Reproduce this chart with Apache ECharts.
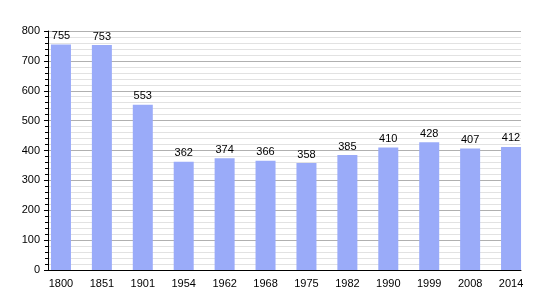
<!DOCTYPE html>
<html><head><meta charset="utf-8">
<script src="https://cdn.jsdelivr.net/npm/echarts@6/dist/echarts.min.js"></script>
<style>html,body{margin:0;padding:0;background:#fff}#c{width:550px;height:300px}</style>
</head><body><div id="c"></div>
<script>
var years = ['1800','1851','1901','1954','1962','1968','1975','1982','1990','1999','2008','2014'];
var population = [755, 753, 553, 362, 374, 366, 358, 385, 410, 428, 407, 412];
var yTicks = {min: 0, max: 800, step: 100};

var chart = echarts.init(document.getElementById('c'), null, {renderer: 'canvas'});
var font = 'Liberation Sans, Arial, sans-serif';
chart.setOption({
  animation: false,
  backgroundColor: '#fff',
  grid: [
    {left: 48, right: 29, top: 31, bottom: 30},
    {left: 40.5, width: 491, top: 31, bottom: 30}
  ],
  xAxis: [
    {type: 'value', gridIndex: 0, min: 0, max: 1, axisLine: {show: true, onZero: false, lineStyle: {color: '#000', width: 1}},
     axisTick: {show: false}, axisLabel: {show: false}, splitLine: {show: false}},
    {type: 'category', gridIndex: 1, data: years, axisLine: {show: false}, axisTick: {show: false},
     axisLabel: {color: '#000', fontSize: 11, fontFamily: font, margin: 8}}
  ],
  yAxis: [
    {type: 'value', gridIndex: 0, min: yTicks.min, max: yTicks.max, interval: yTicks.step,
     axisLine: {show: true, lineStyle: {color: '#000', width: 1}},
     axisTick: {show: true, length: 4, lineStyle: {color: '#000'}},
     minorTick: {show: true, splitNumber: 5, length: 3, lineStyle: {color: '#000'}},
     axisLabel: {color: '#000', fontSize: 11, fontFamily: font, margin: 8},
     splitLine: {show: true, lineStyle: {color: '#b0b0b0', width: 1}},
     minorSplitLine: {show: true, lineStyle: {color: '#e2e2e2', width: 1}}},
    {type: 'value', gridIndex: 1, min: yTicks.min, max: yTicks.max, show: false}
  ],
  series: [{
    type: 'bar', xAxisIndex: 1, yAxisIndex: 1, data: population, barWidth: 20,
    itemStyle: {color: '#9aabf9'},
    label: {show: true, position: 'top', distance: 3, color: '#000', fontSize: 11, fontFamily: font}
  }]
});
</script></body></html>
